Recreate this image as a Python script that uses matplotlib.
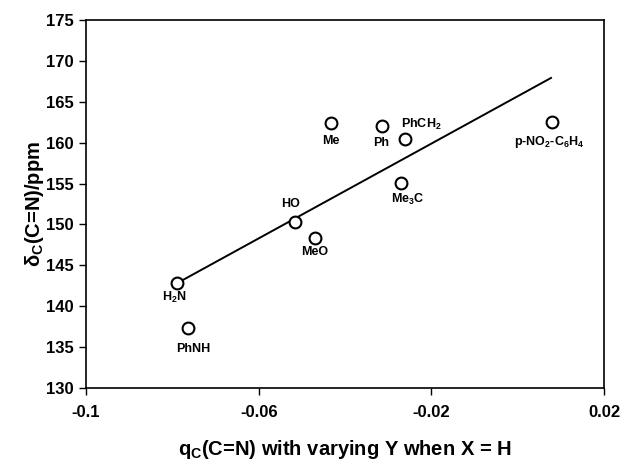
import numpy as np
import matplotlib
matplotlib.use("Agg")
import matplotlib.pyplot as plt

plt.rcParams['font.family'] = ['Liberation Sans', 'DejaVu Sans']
plt.rcParams['font.weight'] = 'bold'
plt.rcParams['mathtext.fontset'] = 'custom'
plt.rcParams['mathtext.rm'] = 'Liberation Sans:bold'
plt.rcParams['mathtext.it'] = 'Liberation Sans:bold'
plt.rcParams['mathtext.bf'] = 'Liberation Sans:bold'

# Substituent Y, charge q_C(C=N), shift delta_C(C=N)
labels = [r'H$_2$N', 'PhNH', 'HO', 'MeO', 'Me', 'Ph', r'PhCH$_2$', r'Me$_3$C',
          r'p-NO$_2$-C$_6$H$_4$']
q_c = [-0.0790, -0.0764, -0.0515, -0.0470, -0.0432, -0.0315, -0.0262, -0.0270, 0.0080]
delta_c = [142.8, 137.3, 150.3, 148.3, 162.4, 162.0, 160.4, 155.1, 162.5]

# regression line end points
fit_x = [-0.0790, 0.0077]
fit_y = [142.8, 167.9]

# label offsets (points)
offsets = [(-1.5, -10), (3.5, -14.5), (-3.6, 13), (0, -10), (0, -13), (-0.7, -12),
           (12, 11), (5, -12), (-2, -14)]

fig = plt.figure(figsize=(6.42, 4.61), dpi=100)
ax = fig.add_axes([0.134, 0.158, 0.807, 0.799])

ax.plot(fit_x, fit_y, color='black', linewidth=1.4, zorder=2)
ax.plot(q_c, delta_c, linestyle='none', marker='o', markersize=8.5,
        markerfacecolor='white', markeredgecolor='black', markeredgewidth=1.5, zorder=3)

for lab, x, y, off in zip(labels, q_c, delta_c, offsets):
    ax.annotate(lab, (x, y), xytext=off, textcoords='offset points',
                ha='center', va='center', fontsize=9, fontweight='bold')

ax.set_xlim(-0.1, 0.02)
ax.set_ylim(130, 175)
ax.set_xticks([-0.1, -0.06, -0.02, 0.02])
ax.set_xticklabels(['-0.1', '-0.06', '-0.02', '0.02'])
ax.set_yticks(np.arange(130, 176, 5))
ax.tick_params(direction='out', length=5, width=1, labelsize=12)
ax.tick_params(axis='x', pad=7)
ax.tick_params(axis='y', pad=4)
for lbl in ax.get_xticklabels() + ax.get_yticklabels():
    lbl.set_fontweight('bold')
for s in ax.spines.values():
    s.set_linewidth(1.2)

ax.set_xlabel(r'q$_C$(C=N) with varying Y when X = H', fontsize=14.5, fontweight='bold',
              labelpad=13)
ax.set_ylabel(r'$\mathregular{\delta}_C$(C=N)/ppm', fontsize=14.5, fontweight='bold',
              labelpad=0)

fig.savefig('out.png', dpi=100)
